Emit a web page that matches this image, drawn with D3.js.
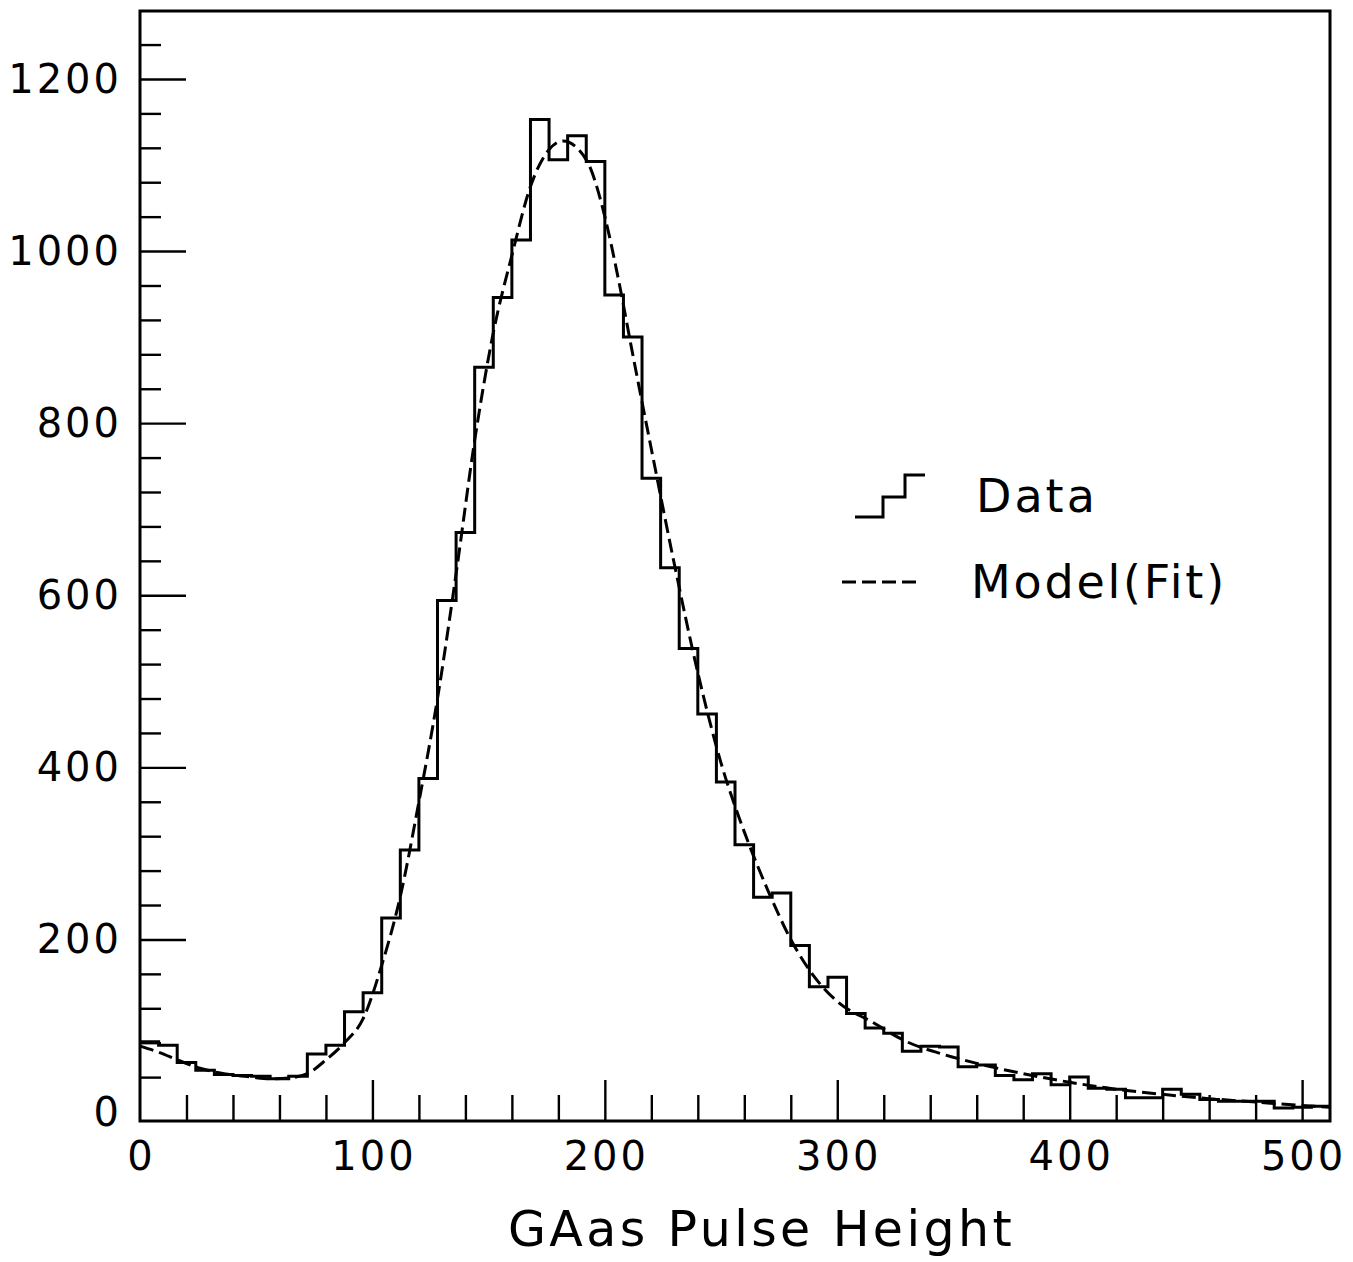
<!DOCTYPE html>
<html>
<head>
<meta charset="utf-8">
<script src="https://cdn.jsdelivr.net/npm/d3@7"></script>
<style>
  html, body { margin: 0; padding: 0; background: #fff; }
  svg { display: block; }
  text { font-family: "DejaVu Sans", "Liberation Sans", Arial, sans-serif; fill: #000; }
</style>
</head>
<body>
<svg id="chart" width="1353" height="1262"></svg>
<script>
// ---- data ----
const binLow = [0,8,16,24,32,40,48,56,64,72,80,88,96,104,112,120,128,136,144,152,160,168,176,184,192,200,208,216,224,232,240,248,256,264,272,280,288,296,304,312,320,328,336,344,352,360,368,376,384,392,400,408,416,424,432,440,448,456,464,472,480,488,496,504];
const binCounts = [81,77,57,48,43,42,41,38,41,67,77,116,138,225,304,387,594,673,865,946,1013,1153,1106,1134,1104,949,900,736,632,538,462,383,310,249,254,193,145,156,114,97,91,70,76,75,52,54,42,37,44,31,40,27,26,16,16,26,20,14,12,12,12,4,5,6];
const binWidth = 8;
const fitX = [0,8,17,25,34,48,57,64,72,80,88,96,104,112,120,128,136,144,152,160,168,176,182,188,194,200,206,212,220,230,240,250,260,270,280,290,300,315,330,345,360,380,400,420,440,460,480,500,512];
const fitY = [76,69,59,51,45,40,38,39,44,60,80,108,170,250,360,480,625,780,905,995,1075,1118,1128,1120,1095,1040,965,880,770,635,510,405,325,258,200,157,128,104,81,67,56,44,34,26,20,15,11,7,5];
const xMajorTicks = [100,200,300,400,500];
const xTickLabels = [0,100,200,300,400,500];
const yMajorTicks = [200,400,600,800,1000,1200];
const yTickLabels = [0,200,400,600,800,1000,1200];
const xTitle = "GAas Pulse Height";
const legendLabels = ["Data", "Model(Fit)"];

// ---- scales ----
const svg = d3.select("#chart");
const x = d3.scaleLinear().domain([0, 512]).range([140, 1330]);
const y = d3.scaleLinear().domain([-11, 1279]).range([1121, 11]);
const x0 = x.range()[0], x1 = x.range()[1];
const yb = y.range()[0], yt = y.range()[1];

// ---- ticks (inward) ----
const xMinor = d3.range(20, 512, 20).filter(v => v % 100 !== 0);
const yMinor = d3.range(40, 1279, 40).filter(v => v % 200 !== 0);

const xAxisMajor = d3.axisBottom(x).tickValues(xMajorTicks).tickSize(-41).tickFormat("");
const xAxisMinor = d3.axisBottom(x).tickValues(xMinor).tickSize(-26).tickFormat("");
const yAxisMajor = d3.axisLeft(y).tickValues(yMajorTicks).tickSize(-46).tickFormat("");
const yAxisMinor = d3.axisLeft(y).tickValues(yMinor).tickSize(-21).tickFormat("");

function styleAxis(g) {
  g.select(".domain").remove();
  g.selectAll(".tick line").attr("stroke", "#000").attr("stroke-width", 2.4);
}
svg.append("g").attr("transform", `translate(0,${yb})`).call(xAxisMajor).call(styleAxis);
svg.append("g").attr("transform", `translate(0,${yb})`).call(xAxisMinor).call(styleAxis);
svg.append("g").attr("transform", `translate(${x0},0)`).call(yAxisMajor).call(styleAxis);
svg.append("g").attr("transform", `translate(${x0},0)`).call(yAxisMinor).call(styleAxis);

// ---- tick labels ----
svg.append("g").selectAll("text").data(xTickLabels).join("text")
  .attr("x", d => x(d) + 1.5)
  .attr("y", 1170)
  .attr("text-anchor", "middle")
  .attr("font-size", 40)
  .attr("letter-spacing", 3)
  .text(d => d);

svg.append("g").selectAll("text").data(yTickLabels).join("text")
  .attr("x", 122)
  .attr("y", d => y(d) + 14)
  .attr("text-anchor", "end")
  .attr("font-size", 40)
  .attr("letter-spacing", 3)
  .text(d => d);

// ---- axis title ----
svg.append("text")
  .attr("x", 508).attr("y", 1246)
  .attr("font-size", 49)
  .attr("letter-spacing", 3.4)
  .text(xTitle);

// ---- histogram (data) ----
const histPts = binLow.map((b, i) => [b, binCounts[i]]);
histPts.push([binLow[binLow.length - 1] + binWidth, binCounts[binCounts.length - 1]]);
const stepLine = d3.line().x(d => x(d[0])).y(d => y(d[1])).curve(d3.curveStepAfter);
svg.append("path")
  .attr("d", stepLine(histPts))
  .attr("fill", "none").attr("stroke", "#000").attr("stroke-width", 3)
  .attr("stroke-linejoin", "miter");

// ---- fit (model) ----
const fitLine = d3.line().x((d, i) => x(fitX[i])).y(d => y(d)).curve(d3.curveMonotoneX);
svg.append("path")
  .attr("d", fitLine(fitY))
  .attr("fill", "none").attr("stroke", "#000").attr("stroke-width", 3)
  .attr("stroke-dasharray", "14,6");

// ---- frame ----
svg.append("rect")
  .attr("x", x0).attr("y", yt)
  .attr("width", x1 - x0).attr("height", yb - yt)
  .attr("fill", "none").attr("stroke", "#000").attr("stroke-width", 3);

// ---- legend ----
const leg = svg.append("g");
const stepIcon = [[855,517],[883,517],[883,497],[905,497],[905,475],[925,475]];
leg.append("path")
  .attr("d", d3.line()(stepIcon))
  .attr("fill", "none").attr("stroke", "#000").attr("stroke-width", 3);
leg.append("line")
  .attr("x1", 842).attr("x2", 918).attr("y1", 582).attr("y2", 582)
  .attr("stroke", "#000").attr("stroke-width", 3).attr("stroke-dasharray", "14,6");
leg.append("text").attr("x", 976).attr("y", 512)
  .attr("font-size", 46).attr("letter-spacing", 3).text(legendLabels[0]);
leg.append("text").attr("x", 971).attr("y", 598)
  .attr("font-size", 46).attr("letter-spacing", 2.8).text(legendLabels[1]);
</script>
</body>
</html>
